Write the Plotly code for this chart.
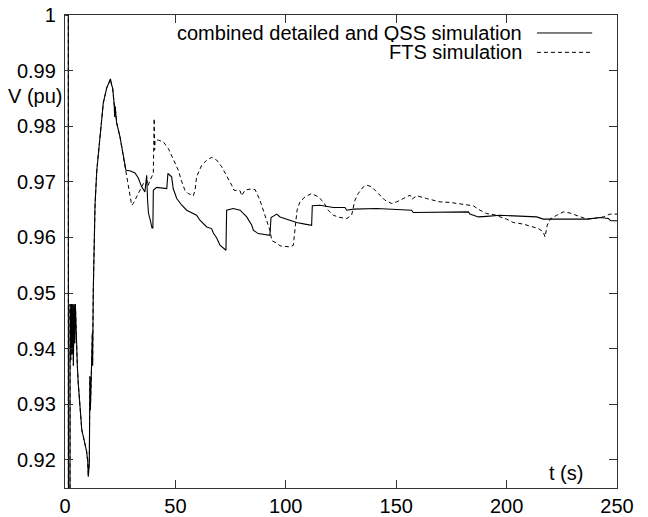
import plotly.graph_objects as go

# ---- data (time in s, voltage in pu) ----
t_common = [0, 1.5, 1.55, 2.25, 2.3, 2.6, 2.9, 3.2, 3.5, 3.8, 4.1, 4.4, 4.7, 5.0, 5.3, 5.6, 6.0, 6.8,
            7.6, 8.3, 9.1, 9.8, 10.3, 10.55, 11.0, 11.3, 11.5, 12.4, 12.5, 12.8, 13.6, 14.4, 15.85,
            17.35, 18.9, 20.0, 20.6, 21.0, 21.6, 22.3, 22.5, 22.7, 23.4, 24.9, 26.4, 27.6]
v_common = [1.0, 1.0, 0.90, 0.90, 0.948, 0.938, 0.948, 0.939, 0.948, 0.937, 0.948, 0.941, 0.948, 0.942,
            0.9398, 0.9368, 0.9338, 0.9302, 0.9254, 0.9242, 0.923, 0.9215, 0.9197, 0.917, 0.9194,
            0.935, 0.929, 0.9428, 0.937, 0.9502, 0.9658, 0.9721, 0.9788, 0.9842, 0.9869, 0.9879,
            0.9885, 0.9876, 0.9868, 0.9838, 0.9817, 0.9836, 0.9806, 0.9781, 0.9745, 0.9721]

t_det_tail = [29.4, 31.7, 33.2, 34.7, 36.2, 37.0, 37.4, 37.8, 38.8, 39.4, 39.8, 40.0, 41.5, 46.1, 46.6,
              48.3, 49.0, 50.6, 52.9, 55.1, 59.6, 61.1, 64.2, 66.4, 67.2, 68.7, 70.2, 72.5, 72.9, 73.2,
              76.2, 79.3, 82.3, 84.6, 85.3, 87.5, 92.8, 93.3, 95.9, 97.4, 100.4, 104.9, 108.7, 111.7,
              112.0, 115.5, 121.5, 126.8, 127.6, 130.6, 141.2, 147.2, 157.0, 157.7, 166.1, 166.8,
              182.7, 183.4, 187.2, 191.0, 197.0, 213.6, 216.6, 236.3, 242.3, 246.1, 247.2, 250.0]
v_det_tail = [0.972, 0.9716, 0.9707, 0.9691, 0.9682, 0.9712, 0.9667, 0.9644, 0.9628, 0.9617, 0.9617,
              0.9685, 0.969, 0.9688, 0.9715, 0.9709, 0.9688, 0.967, 0.9658, 0.9649, 0.964, 0.9631,
              0.9619, 0.9616, 0.9608, 0.9599, 0.9586, 0.9577, 0.9577, 0.9649, 0.9652, 0.9649, 0.9637,
              0.9622, 0.9613, 0.9607, 0.9604, 0.9636, 0.9642, 0.9637, 0.9633, 0.9627, 0.9624, 0.9622,
              0.9657, 0.9658, 0.9654, 0.9654, 0.9649, 0.9651, 0.9652, 0.9651, 0.9649, 0.9645, 0.9645,
              0.9646, 0.9646, 0.9642, 0.9637, 0.9638, 0.964, 0.9637, 0.9633, 0.9633, 0.9636, 0.9634,
              0.963, 0.963]

t_fts_tail = [28.7, 30.2, 30.9, 32.5, 34.0, 35.5, 37.0, 37.6, 38.5, 40.0, 40.4, 40.6, 40.8, 42.3, 44.5,
              46.8, 49.0, 51.3, 52.9, 54.3, 55.8, 57.4, 58.1, 58.9, 59.6, 61.9, 64.2, 66.4, 68.7, 71.0,
              73.2, 75.5, 76.5, 79.3, 80.0, 81.5, 83.8, 86.1, 88.3, 90.6, 92.8, 93.7, 95.9, 97.4,
              101.9, 103.4, 104.2, 105.1, 106.4, 108.7, 111.7, 114.7, 117.0, 119.2, 121.5, 124.5,
              127.6, 129.8, 131.3, 132.8, 135.1, 136.8, 138.9, 141.9, 144.9, 148.0, 150.2, 153.2,
              156.3, 157.2, 159.3, 163.8, 169.8, 174.4, 178.9, 184.9, 188.0, 191.0, 195.5, 197.0,
              200.0, 203.0, 207.6, 211.4, 214.4, 216.6, 217.4, 218.4, 219.7, 222.7, 225.7, 228.7,
              232.5, 236.3, 239.3, 243.8, 246.8, 250.0]
v_fts_tail = [0.9691, 0.9658, 0.9661, 0.9673, 0.9685, 0.9697, 0.9703, 0.9693, 0.9703, 0.9715, 0.9814,
              0.9757, 0.9775, 0.9775, 0.9772, 0.976, 0.9742, 0.9721, 0.970, 0.9685, 0.9679, 0.9676,
              0.9675, 0.9685, 0.9709, 0.973, 0.9739, 0.9744, 0.9739, 0.9727, 0.9712, 0.9694, 0.9685,
              0.9684, 0.9675, 0.9685, 0.9687, 0.9686, 0.9667, 0.964, 0.9613, 0.9594, 0.959, 0.9585,
              0.9583, 0.9586, 0.9613, 0.9649, 0.9664, 0.9673, 0.9679, 0.9673, 0.9664, 0.9649, 0.964,
              0.9636, 0.9634, 0.964, 0.9667, 0.9679, 0.9691, 0.9694, 0.9691, 0.9679, 0.9667, 0.9661,
              0.9664, 0.967, 0.9676, 0.9669, 0.9675, 0.967, 0.9664, 0.9663, 0.966, 0.9657, 0.9649,
              0.9643, 0.964, 0.9637, 0.9633, 0.9627, 0.9624, 0.9619, 0.9616, 0.961, 0.9601, 0.9622,
              0.9633, 0.964, 0.9646, 0.9644, 0.9639, 0.9633, 0.9634, 0.9637, 0.9642, 0.9642]

x_ticks = [0, 50, 100, 150, 200, 250]
y_ticks = [0.92, 0.93, 0.94, 0.95, 0.96, 0.97, 0.98, 0.99, 1.0]
y_tick_text = ["0.92", "0.93", "0.94", "0.95", "0.96", "0.97", "0.98", "0.99", "1"]

series_names = ["combined detailed and QSS simulation", "FTS simulation"]

FONT = "Liberation Sans, Arial, Helvetica, sans-serif"
FS = 20

fig = go.Figure()
fig.add_trace(go.Scatter(x=t_common + t_fts_tail, y=v_common + v_fts_tail, mode="lines",
                         line=dict(color="black", width=1, dash="4px,3px"),
                         name=series_names[1], showlegend=False))
fig.add_trace(go.Scatter(x=t_common + t_det_tail, y=v_common + v_det_tail, mode="lines",
                         line=dict(color="black", width=1.1),
                         name=series_names[0], showlegend=False))

axis_common = dict(showgrid=False, zeroline=False, showline=True, linecolor="#333333",
                   linewidth=1.3, mirror="allticks", ticks="inside", ticklen=8,
                   tickcolor="#333333", tickwidth=1.2, automargin=False,
                   tickfont=dict(family=FONT, size=FS, color="black"))

fig.update_xaxes(range=[0, 250], tickvals=x_ticks, ticklabelstandoff=0, **axis_common)
fig.update_yaxes(range=[0.91496, 1.0], tickvals=y_ticks, ticktext=y_tick_text,
                 ticklabelstandoff=4, **axis_common)

# gnuplot-style key: text on the left, line sample on the right
key_y = [0.962, 0.921]
key_dash = ["solid", "4px,3px"]
for name, ky, dsh in zip(series_names, key_y, key_dash):
    fig.add_annotation(xref="paper", yref="paper", x=0.832, y=ky, text=name, showarrow=False,
                       xanchor="right", yanchor="middle", height=18, valign="middle",
                       font=dict(family=FONT, size=FS, color="black"))
    fig.add_shape(type="line", xref="paper", yref="paper", x0=0.855, x1=0.955, y0=ky, y1=ky,
                  line=dict(color="black", width=1, dash=dsh))

fig.add_annotation(xref="paper", yref="paper", x=-0.002, y=0.828, text="V (pu)", showarrow=False,
                   xanchor="right", yanchor="middle", font=dict(family=FONT, size=FS, color="black"))
fig.add_annotation(xref="paper", yref="paper", x=0.942, y=0.0317, text="t (s)", showarrow=False,
                   xanchor="right", yanchor="middle", font=dict(family=FONT, size=FS, color="black"))

fig.update_layout(width=648, height=517, margin=dict(l=65, r=31, t=15, b=29),
                  paper_bgcolor="white", plot_bgcolor="white", showlegend=False,
                  font=dict(family=FONT, size=FS, color="black"))

# remove the default 8px page margin so the figure sits at the window's corner
fig.write_html("out.html", config={"displayModeBar": False},
               post_script="document.body.style.margin='0';document.body.style.overflow='hidden';")
